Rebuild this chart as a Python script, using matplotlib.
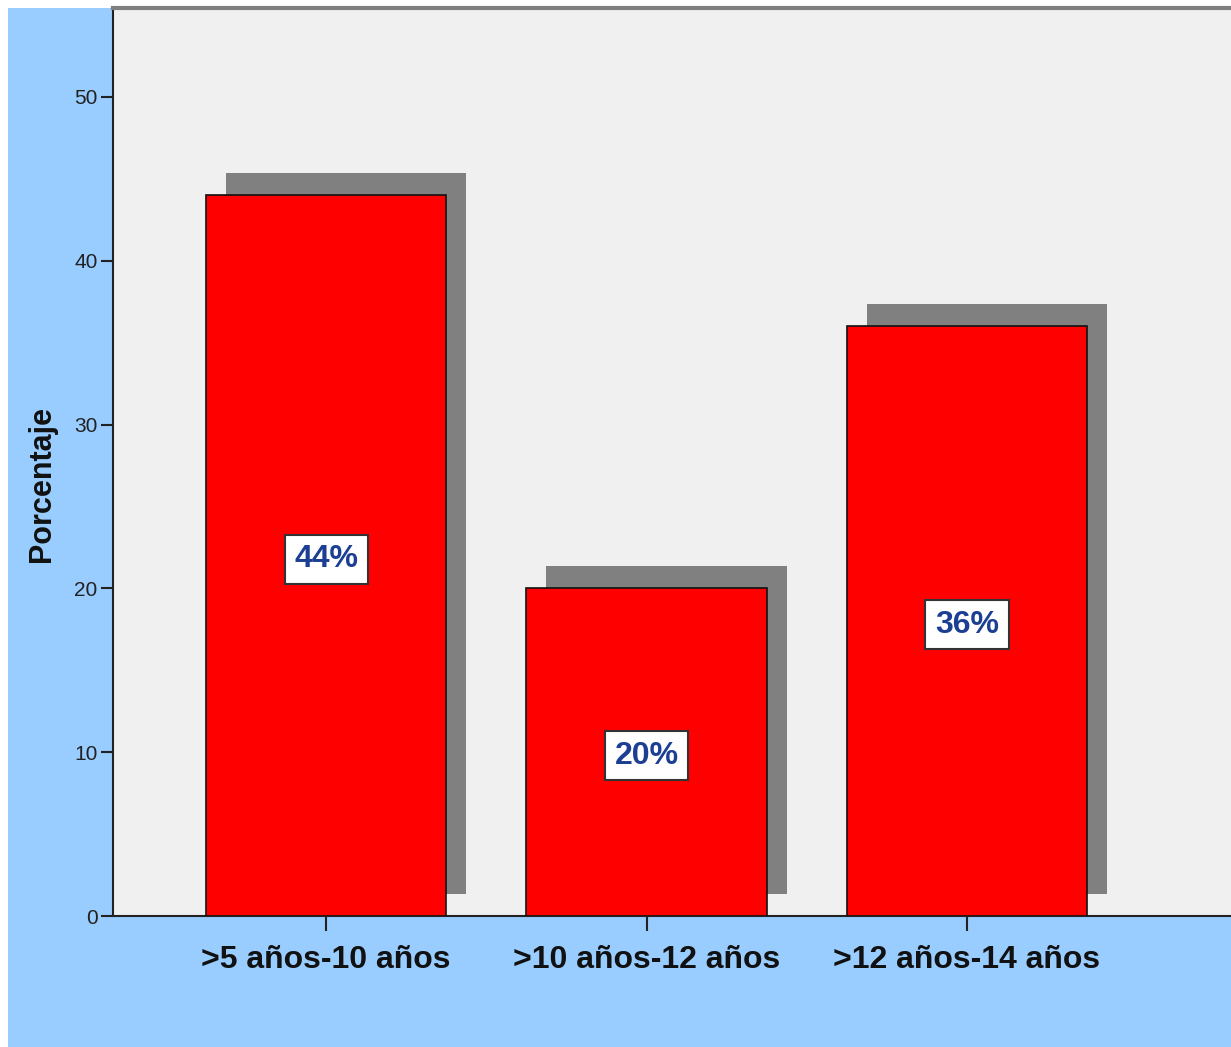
import matplotlib
matplotlib.use("Agg")
import matplotlib.pyplot as plt
import matplotlib.patheffects as pe
from matplotlib.patches import Rectangle

# chart data
categories = [">5 años-10 años", ">10 años-12 años", ">12 años-14 años"]
percentages = [44, 20, 36]
value_labels = ["44%", "20%", "36%"]
y_ticks = [0, 10, 20, 30, 40, 50]

plt.rcParams["font.family"] = ["Liberation Sans", "DejaVu Sans"]

W, H = 1231, 1047
fig = plt.figure(figsize=(W / 100, H / 100), dpi=100, facecolor="white")

# light blue panel behind the plot (small white margin top/left)
fig.patches.append(Rectangle((8 / W, 0), 1, (H - 8) / H, transform=fig.transFigure,
                             facecolor="#99CCFF", edgecolor="none", zorder=-10))

ax = fig.add_axes([113 / W, (H - 916) / H, 1 - 113 / W, (916 - 8) / H])
ax.set_facecolor("#F0F0F0")

x = list(range(len(categories)))
shadow = [pe.SimplePatchShadow(offset=(14.4, 16.2), shadow_rgbFace="#808080", alpha=1.0),
          pe.Normal()]
bars = ax.bar(x, percentages, width=0.75, color="#FF0000", edgecolor="#111111",
              linewidth=1.2, zorder=3)
for b in bars:
    b.set_path_effects(shadow)

# value labels sit in the middle of each bar
for xi, val, lab in zip(x, percentages, value_labels):
    ax.text(xi, val / 2, lab, ha="center", va="center_baseline", fontsize=23,
            fontweight="bold", color="#1C3F94", zorder=5,
            bbox=dict(boxstyle="square,pad=0.3", facecolor="white",
                      edgecolor="#333333", linewidth=1.5))

ax.set_xlim(-0.665, 2.824)
ax.set_ylim(0, 55.43)
ax.set_yticks(y_ticks)
ax.set_xticks(x)
ax.set_xticklabels(categories, fontsize=23, fontweight="bold", color="#111111")
ax.tick_params(axis="y", labelsize=15, length=9, width=1.5, pad=2,
               color="#222222", labelcolor="#222222")
ax.tick_params(axis="x", length=11, width=1.5, pad=10, color="#222222")

ax.set_ylabel("Porcentaje", fontsize=22, fontweight="bold", color="#111111")
ax.yaxis.set_label_coords(-0.05, 0.476)

for side in ["left", "bottom"]:
    ax.spines[side].set_color("#222222")
    ax.spines[side].set_linewidth(1.5)
ax.spines["right"].set_visible(False)
ax.spines["top"].set_color("#7F7F7F")
ax.spines["top"].set_linewidth(3)

fig.savefig("out.png", dpi=100, facecolor=fig.get_facecolor())
